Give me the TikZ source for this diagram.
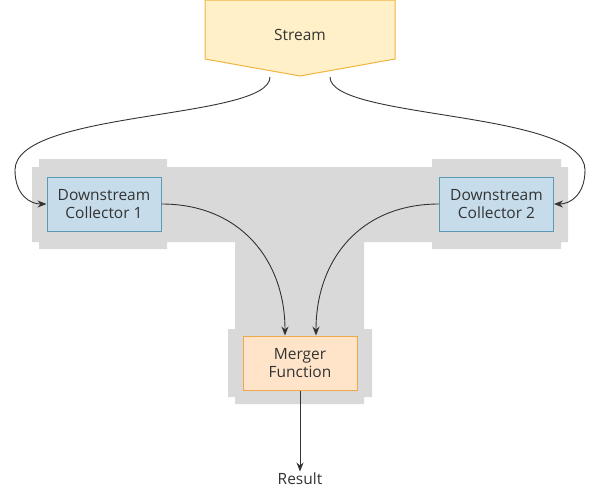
\documentclass[tikz,border=0pt]{standalone}
\usepackage{fontspec}
\setmainfont{Open Sans}
\usetikzlibrary{arrows.meta,calc}
\definecolor{backgray}{HTML}{D9D9D9}
\definecolor{streamfill}{HTML}{FFF0C8}
\definecolor{streamline}{HTML}{F2B441}
\definecolor{collfill}{HTML}{C6DCEB}
\definecolor{collline}{HTML}{5A9AB5}
\definecolor{mergefill}{HTML}{FFE4CA}
\definecolor{mergeline}{HTML}{F2A74A}
\definecolor{ink}{HTML}{333333}
\tikzset{
  txt/.style={font=\fontsize{15.5}{18.5}\selectfont,text=ink,align=center},
  collector/.style={txt,draw=collline,fill=collfill,line width=1pt,minimum width=114pt,minimum height=54pt,inner sep=0pt},
  merger/.style={txt,draw=mergeline,fill=mergefill,line width=1pt,minimum width=114pt,minimum height=54pt,inner sep=0pt},
  link/.style={draw=ink,line width=0.9pt,-{Stealth[length=9pt,width=7pt]}}
}
\begin{document}
\begin{tikzpicture}[x=1pt,y=-1pt]
\useasboundingbox (0,0) rectangle (600,488);
% grey backdrop
\fill[backgray] (32,167) rectangle (568,242)
(39,159) rectangle (167,249) (432,159) rectangle (561,249)
(235,167) rectangle (364,404) (228,329) rectangle (372,397);
% stream
\draw[fill=streamfill,draw=streamline,line width=1pt]
(205,0)--(395,0)--(395,59)--(300,76)--(205,59)--cycle;
\node[txt] (stream) at (300,35) {Stream};
\coordinate (s1) at (270,77);
\coordinate (s2) at (330,77);
% boxes
\node[collector] (c1) at (104,204) {Downstream\\Collector 1};
\node[collector] (c2) at (496.5,204) {Downstream\\Collector 2};
\node[merger] (merge) at (300,363) {Merger\\Function};
\node[txt] (result) at (300,479) {Result};
% connectors
\draw[link] (s1) .. controls (270,120) and (15,110) .. (15,170)
  .. controls (15,195) and (30,204) .. (c1.west);
\draw[link] (s2) .. controls (330,120) and (585,110) .. (585,170)
  .. controls (585,195) and (570,204) .. (c2.east);
\draw[link] (c1.east) .. controls (240,204) and (285,260) .. ($(merge.north)+(-15,0)$);
\draw[link] (c2.west) .. controls (360,204) and (316,260) .. ($(merge.north)+(16,0)$);
\draw[link] (merge.south) -- ($(result.north)+(0,2)$);
\end{tikzpicture}
\end{document}
